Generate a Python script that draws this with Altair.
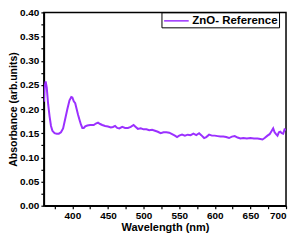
import altair as alt
import pandas as pd

wavelength = [360, 361, 362.5, 364, 366, 368, 370, 372, 375, 378, 381, 384, 387, 390,
              393, 396, 398.5, 400, 402, 404, 406, 408, 410, 412, 414, 416, 418, 421,
              425, 430, 433, 436, 439, 442, 446, 450, 454, 457, 460, 463, 466, 470,
              474, 478, 482, 486, 489, 492, 496, 500, 504, 508, 512, 516, 520, 524,
              528, 532, 536, 540, 544, 547, 550, 554, 558, 562, 566, 570, 574, 578,
              581, 585, 588, 592, 596, 600, 604, 608, 612, 616, 620, 624, 628, 632,
              636, 640, 645, 650, 655, 660, 664, 667, 670, 674, 677, 680, 682, 684,
              686, 688, 690, 692, 694, 696, 698, 700]
absorbance = [0.215, 0.245, 0.257, 0.245, 0.210, 0.185, 0.165, 0.155, 0.150, 0.149,
              0.149, 0.152, 0.160, 0.180, 0.200, 0.218, 0.225, 0.224, 0.216, 0.212,
              0.200, 0.188, 0.178, 0.168, 0.161, 0.161, 0.164, 0.166, 0.167, 0.167,
              0.170, 0.172, 0.169, 0.167, 0.165, 0.164, 0.162, 0.163, 0.165, 0.161,
              0.160, 0.163, 0.161, 0.161, 0.163, 0.167, 0.163, 0.159, 0.160, 0.158,
              0.158, 0.156, 0.157, 0.155, 0.153, 0.150, 0.152, 0.152, 0.151, 0.148,
              0.145, 0.142, 0.145, 0.147, 0.145, 0.147, 0.146, 0.149, 0.146, 0.150,
              0.146, 0.140, 0.142, 0.147, 0.145, 0.145, 0.144, 0.143, 0.143, 0.142,
              0.140, 0.143, 0.144, 0.141, 0.139, 0.140, 0.139, 0.140, 0.139, 0.139,
              0.138, 0.137, 0.140, 0.145, 0.148, 0.155, 0.160, 0.152, 0.148, 0.145,
              0.152, 0.153, 0.150, 0.149, 0.158, 0.157]
series_name = "ZnO- Reference"

x_ticks = [375, 400, 425, 450, 475, 500, 525, 550, 575, 600, 625, 650, 675, 700]
y_ticks = [0.0, 0.025, 0.05, 0.075, 0.1, 0.125, 0.15, 0.175, 0.2, 0.225, 0.25,
           0.275, 0.3, 0.325, 0.35, 0.375, 0.4]

df = pd.DataFrame({"wl": wavelength, "abs": absorbance, "series": series_name})

FONT = "Liberation Sans"

chart = alt.Chart(df).mark_line(strokeWidth=2, clip=True).encode(
    x=alt.X("wl:Q",
            scale=alt.Scale(domain=[360, 700], nice=False, zero=False),
            axis=alt.Axis(title="Wavelength (nm)", values=x_ticks,
                          labelExpr="datum.value % 50 == 0 ? datum.value : ''",
                          labelOverlap=False, grid=False, tickSize=3,
                          titlePadding=1, labelPadding=2)),
    y=alt.Y("abs:Q",
            scale=alt.Scale(domain=[0, 0.4], nice=False),
            axis=alt.Axis(title="Absorbance (arb.units)", values=y_ticks,
                          labelExpr="round(datum.value*1000) % 50 == 0 ? format(datum.value, '.2f') : ''",
                          labelOverlap=False, grid=False, tickSize=3,
                          titlePadding=1, labelPadding=2, titleFontSize=10.5)),
    color=alt.Color("series:N",
                    scale=alt.Scale(range=["#9B30FF"]),
                    legend=alt.Legend(title=None, orient="none", legendX=118, legendY=0,
                                      symbolType="M-0.9,0L2.9,0", symbolSize=169,
                                      symbolStrokeWidth=1.5, labelOffset=15,
                                      labelFontSize=11.5, labelFont=FONT,
                                      labelFontWeight="bold", labelColor="black",
                                      strokeColor="black", padding=1,
                                      fillColor="white")),
).properties(
    width=243, height=194,
    autosize=alt.AutoSizeParams(type="none"),
    padding={"left": 36, "top": 4, "right": 4, "bottom": 30},
).configure_view(
    stroke="black", strokeWidth=1.5
).configure_axis(
    domainColor="black", domainWidth=1.5, tickColor="black", tickWidth=1.2,
    labelFont=FONT, labelFontSize=10, labelFontWeight="bold", labelColor="black",
    titleFont=FONT, titleFontSize=11, titleFontWeight="bold", titleColor="black",
)

chart.save("out.html", embed_options={"renderer": "svg", "actions": False})
